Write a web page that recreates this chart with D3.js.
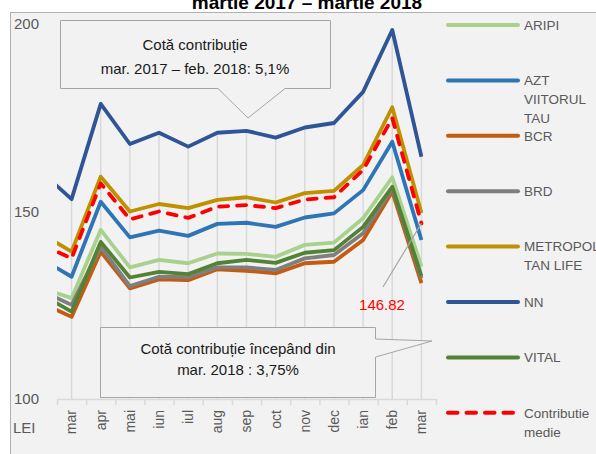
<!DOCTYPE html>
<html>
<head>
<meta charset="utf-8">
<script src="https://cdn.jsdelivr.net/npm/d3@7"></script>
<style>
  body { margin: 0; background: #fff; }
  svg { display: block; font-family: "Liberation Sans", Arial, sans-serif; }
</style>
</head>
<body>
<svg id="chart"></svg>
<script>
// first value = feb 2017, only its half-segment shows at the left edge
const months = ['feb', 'mar', 'apr', 'mai', 'iun', 'iul', 'aug', 'sep', 'oct', 'nov', 'dec', 'ian', 'feb', 'mar'];

const aripi    = [129.5, 126.9, 145.1, 135.1, 137.1, 136.2, 138.8, 138.7, 137.9, 141.1, 141.7, 148.2, 159.1, 135.3];
const azt      = [137.2, 132.6, 152.6, 143.1, 144.9, 143.5, 146.7, 147.0, 145.9, 148.4, 149.5, 155.7, 168.6, 142.4];
const bcr      = [125.5, 121.9, 139.3, 129.5, 131.9, 131.7, 134.6, 134.2, 133.5, 136.2, 136.6, 142.4, 155.3, 130.9];
const brd      = [128.7, 125.1, 140.6, 130.1, 132.6, 132.5, 135.1, 135.1, 134.4, 137.5, 138.4, 144.2, 156.2, 132.2];
const metropol = [143.9, 139.3, 159.3, 150.0, 152.0, 150.9, 153.1, 153.8, 152.4, 154.9, 155.5, 162.4, 177.8, 149.6];
const nn       = [160.3, 153.3, 178.7, 168.0, 171.0, 167.3, 171.0, 171.5, 169.7, 172.4, 173.6, 181.9, 198.4, 164.6];
const vital    = [127.7, 123.3, 141.9, 132.4, 133.9, 133.3, 136.2, 137.1, 136.3, 139.0, 139.7, 145.9, 156.6, 132.8];
const medie    = [141.1, 137.5, 157.5, 147.9, 150.0, 148.3, 151.3, 151.7, 150.9, 153.2, 153.8, 161.1, 174.9, 146.82];

const yTicks = [100, 150, 200];

const series = [
  { name: ['ARIPI'], values: aripi, color: '#a9d18e' },
  { name: ['AZT', 'VIITORUL', 'TAU'], values: azt, color: '#2e75b6' },
  { name: ['BCR'], values: bcr, color: '#c55a11' },
  { name: ['BRD'], values: brd, color: '#7f7f7f' },
  { name: ['METROPOL', 'TAN LIFE'], values: metropol, color: '#bf9000' },
  { name: ['NN'], values: nn, color: '#2f5597' },
  { name: ['VITAL'], values: vital, color: '#548235' },
  { name: ['Contributie', 'medie'], values: medie, color: '#ff0000', dash: true }
];

const width = 596, height = 454;
const svg = d3.select('#chart').attr('width', width).attr('height', height);

// chart area
svg.append('rect')
  .attr('x', 10.5).attr('y', 12.5)
  .attr('width', 620).attr('height', 460)
  .attr('fill', '#f2f2f2')
  .attr('stroke', '#b0b0b0');

svg.append('text')
  .attr('x', 307).attr('y', 9)
  .attr('text-anchor', 'middle')
  .style('font-size', '19px')
  .style('font-weight', 'bold')
  .text('martie 2017 – martie 2018');

// index -1 .. 12 (index 0 in the arrays is the hidden feb)
const x = d3.scaleLinear().domain([-0.5, 12.5]).range([57, 436]);
const y = d3.scaleLinear().domain([100, 200]).range([399, 24]);

svg.append('defs').append('clipPath').attr('id', 'plot')
  .append('rect').attr('x', 57).attr('y', 12).attr('width', 390).attr('height', 400);

// drop lines from the top series down to the axis
svg.append('g')
  .selectAll('line')
  .data(nn.slice(1))
  .enter()
  .append('line')
  .attr('x1', (d, i) => x(i)).attr('x2', (d, i) => x(i))
  .attr('y1', d => y(d)).attr('y2', y(100))
  .attr('stroke', '#d9d9d9')
  .attr('stroke-width', 1.5);

// x axis
const xAxis = svg.append('g')
  .attr('transform', `translate(0,${y(100)})`)
  .call(d3.axisBottom(x).tickValues(d3.range(-0.5, 13, 1)).tickFormat('').tickSize(6).tickSizeOuter(0));
xAxis.select('.domain').attr('stroke', '#d9d9d9').attr('stroke-width', 1.5);
xAxis.selectAll('.tick line').attr('stroke', '#d9d9d9').attr('stroke-width', 1.5);

svg.append('g')
  .selectAll('text')
  .data(months.slice(1))
  .enter()
  .append('text')
  .attr('transform', (d, i) => `translate(${x(i)},410) rotate(-90)`)
  .attr('text-anchor', 'end')
  .attr('dy', '0.35em')
  .style('font-size', '14px')
  .style('fill', '#595959')
  .text(d => d);

// y axis labels only
const yAxis = svg.append('g')
  .attr('transform', 'translate(57,0)')
  .call(d3.axisLeft(y).tickValues(yTicks).tickSize(0).tickPadding(18));
yAxis.select('.domain').remove();
yAxis.selectAll('text').style('font-size', '15px').style('fill', '#595959')
  .style('font-family', '"Liberation Sans", Arial, sans-serif');

svg.append('text')
  .attr('x', 13).attr('y', 433)
  .style('font-size', '15px')
  .style('fill', '#595959')
  .text('LEI');

// lines
const line = d3.line()
  .x((d, i) => x(i - 1))
  .y(d => y(d));

svg.append('g')
  .attr('clip-path', 'url(#plot)')
  .selectAll('path')
  .data(series)
  .enter()
  .append('path')
  .attr('d', d => line(d.values))
  .attr('fill', 'none')
  .attr('stroke', d => d.color)
  .attr('stroke-width', 3.8)
  .attr('stroke-linejoin', 'round')
  .attr('stroke-linecap', d => d.dash ? 'round' : 'butt')
  .attr('stroke-dasharray', d => d.dash ? '9,9' : null);

// callouts
const callouts = svg.append('g');
callouts.append('path')
  .attr('d', 'M60.5,20.5 H330.5 V88.5 H285 L248,118 L218,88.5 H60.5 Z')
  .attr('fill', '#f2f2f2').attr('stroke', '#a6a6a6');
callouts.append('path')
  .attr('d', 'M100.5,327.5 H375.5 V339 L432,341 L375.5,357 V397.5 H100.5 Z')
  .attr('fill', '#f2f2f2').attr('stroke', '#a6a6a6');

const note = (lines, cx, y0, dy) => lines.forEach((t, i) => {
  callouts.append('text')
    .attr('x', cx).attr('y', y0 + i * dy)
    .attr('text-anchor', 'middle')
    .style('font-size', '15px')
    .style('fill', '#1a1a1a')
    .text(t);
});
note(['Cotă contribuție', 'mar. 2017 – feb. 2018: 5,1%'], 195, 50, 24);
note(['Cotă contribuție începând din', 'mar. 2018 : 3,75%'], 238, 354, 21);

// last value label
const last = medie.length - 1;
svg.append('line')
  .attr('x1', 383).attr('y1', 287)
  .attr('x2', x(last - 1)).attr('y2', y(medie[last]))
  .attr('stroke', '#a6a6a6').attr('stroke-width', 1.2);
svg.append('text')
  .attr('x', 382).attr('y', 310)
  .attr('text-anchor', 'middle')
  .style('font-size', '15px')
  .style('fill', '#ff0000')
  .text(medie[last].toFixed(2));

// legend
const legend = svg.append('g')
  .selectAll('g')
  .data(series)
  .enter()
  .append('g')
  .attr('transform', (d, i) => `translate(448,${25 + i * 55.4})`);

legend.append('line')
  .attr('x1', 0).attr('x2', 70)
  .attr('stroke', d => d.color)
  .attr('stroke-width', 4)
  .attr('stroke-linecap', 'round')
  .attr('stroke-dasharray', d => d.dash ? '9.5,9' : null);

legend.each(function (d) {
  const t = d3.select(this).append('text')
    .attr('x', 76)
    .style('font-size', '13.5px')
    .style('fill', '#595959');
  d.name.forEach((s, j) => {
    t.append('tspan').attr('x', 76).attr('y', j * 19).attr('dy', '0.35em').text(s);
  });
});
</script>
</body>
</html>
